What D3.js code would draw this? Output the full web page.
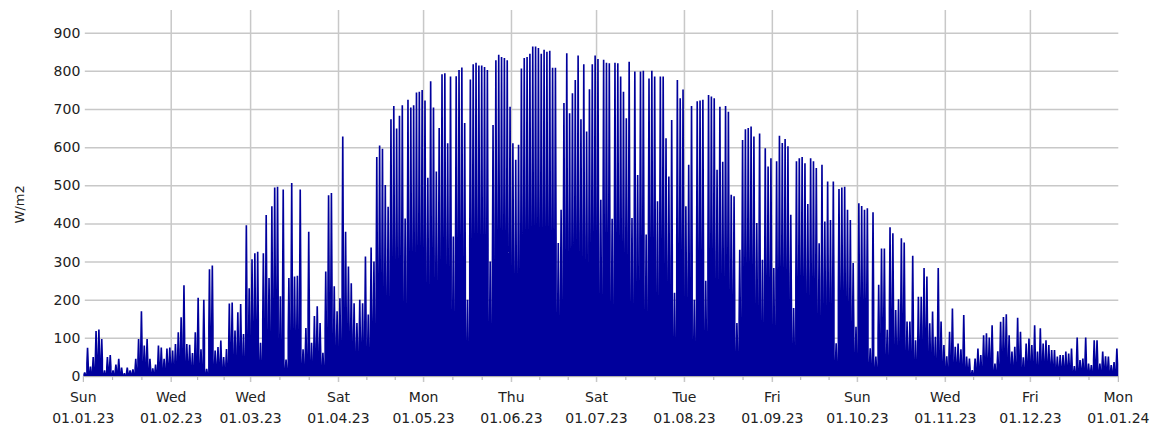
<!DOCTYPE html>
<html>
<head>
<meta charset="utf-8">
<script src="https://cdn.jsdelivr.net/npm/d3@7"></script>
<style>
  body { margin: 0; background: #fff; }
  svg text { font-family: "DejaVu Sans", Verdana, sans-serif; fill: #222; }
</style>
</head>
<body>
<div id="chart"></div>
<script>
// daily peak irradiance (W/m2)
const jan = [10, 74, 25, 50, 118, 122, 97, 15, 50, 55, 15, 30, 45, 22, 8, 22, 15, 18, 45, 97, 170, 80, 97, 45, 20, 30, 80, 75, 45, 72, 75];
const feb = [67, 84, 115, 154, 238, 84, 82, 60, 115, 205, 70, 200, 19, 280, 290, 67, 76, 93, 50, 71, 190, 193, 119, 167, 189, 110, 395, 230];
const mar = [306, 322, 326, 87, 322, 422, 257, 445, 494, 496, 209, 489, 43, 257, 506, 261, 263, 489, 70, 126, 378, 87, 157, 183, 139, 61, 274, 474, 480, 235, 170];
const apr = [204, 628, 378, 287, 243, 191, 139, 200, 191, 313, 161, 337, 300, 574, 604, 596, 501, 444, 673, 708, 649, 682, 710, 413, 724, 704, 710, 743, 745, 750];
const may = [722, 520, 773, 704, 536, 650, 791, 794, 610, 785, 366, 786, 802, 809, 663, 200, 777, 817, 821, 814, 814, 810, 802, 300, 658, 828, 842, 836, 834, 828, 706];
const jun = [610, 567, 606, 806, 834, 836, 845, 864, 864, 860, 845, 855, 850, 853, 808, 808, 349, 436, 716, 846, 689, 741, 776, 840, 673, 817, 641, 752, 817, 840];
const jul = [831, 462, 829, 821, 820, 412, 821, 820, 785, 745, 676, 824, 414, 798, 527, 798, 800, 371, 780, 800, 785, 458, 785, 785, 623, 523, 671, 218, 776, 728, 751];
const aug = [445, 554, 708, 200, 720, 722, 724, 250, 737, 733, 728, 541, 706, 562, 708, 693, 475, 471, 139, 331, 619, 647, 650, 654, 628, 401, 636, 305, 597, 549, 571];
const sep = [283, 563, 630, 611, 621, 602, 423, 178, 563, 571, 574, 558, 451, 571, 563, 545, 348, 554, 405, 510, 409, 510, 86, 490, 494, 496, 436, 409, 296, 129];
const oct = [453, 446, 436, 440, 73, 429, 51, 239, 334, 334, 121, 390, 374, 173, 201, 361, 350, 143, 143, 315, 94, 208, 208, 283, 261, 138, 169, 103, 283, 143, 81];
const nov = [52, 116, 177, 77, 85, 70, 160, 51, 46, 16, 46, 72, 55, 107, 112, 101, 133, 33, 65, 142, 155, 162, 107, 64, 77, 153, 116, 49, 85, 98];
const dec = [81, 133, 64, 125, 85, 94, 81, 68, 68, 51, 55, 55, 64, 59, 72, 26, 101, 42, 46, 101, 33, 29, 94, 94, 33, 64, 52, 51, 29, 37, 72];

const yTicks = [0, 100, 200, 300, 400, 500, 600, 700, 800, 900];
const monthTicks = ["2023-01-01", "2023-02-01", "2023-03-01", "2023-04-01", "2023-05-01", "2023-06-01",
  "2023-07-01", "2023-08-01", "2023-09-01", "2023-10-01", "2023-11-01", "2023-12-01", "2024-01-01"];
const yLabel = "W/m2";

const peaks = [].concat(jan, feb, mar, apr, may, jun, jul, aug, sep, oct, nov, dec);

const width = 1162, height = 430;
const plot = { left: 83.3, right: 1118.3, top: 32.7, bottom: 376, gridTop: 10 };

const parse = d3.timeParse("%Y-%m-%d");
const months = monthTicks.map(parse);
const start = months[0];
const end = months[months.length - 1];
const days = d3.timeDay.range(start, end);

const x = d3.scaleTime().domain([start, end]).range([plot.left, plot.right]);
const y = d3.scaleLinear().domain([0, 900]).range([plot.bottom, plot.top]);

const svg = d3.select("#chart").append("svg")
  .attr("width", width)
  .attr("height", height);

// horizontal grid + y labels
const yAxis = d3.axisLeft(y)
  .tickValues(yTicks)
  .tickSize(-(plot.right - plot.left))
  .tickPadding(3)
  .tickFormat(d3.format("d"));

svg.append("g")
  .attr("transform", `translate(${plot.left},0)`)
  .call(yAxis)
  .call(g => g.select(".domain").remove())
  .call(g => g.selectAll(".tick line").attr("stroke", "#c8c8c8").attr("stroke-width", 1.5).attr("x1", 1.5))
  .call(g => g.selectAll(".tick text").attr("font-size", 14).attr("fill", "#222"));

// vertical month grid
svg.append("g")
  .selectAll("line")
  .data(months.slice(1, -1))
  .join("line")
    .attr("x1", d => x(d)).attr("x2", d => x(d))
    .attr("y1", plot.gridTop).attr("y2", plot.bottom + 6)
    .attr("stroke", "#c8c8c8")
    .attr("stroke-width", 1.5);

// daily irradiance: one hump per day; full width low down, tapered near the peak
// so that the nights show up as thin white gaps in the upper part
const inset = 0.6;
const shoulder = 0.45;
const pts = [];
days.forEach((d, i) => {
  const x0 = x(d), x1 = x(d3.timeDay.offset(d, 1)), p = peaks[i];
  pts.push([x0, 0], [x0, p * shoulder], [x0 + inset, p], [x1 - inset, p], [x1, p * shoulder], [x1, 0]);
});
const area = d3.area()
  .x(p => p[0])
  .y0(y(0))
  .y1(p => y(p[1]));

svg.append("path")
  .datum(pts)
  .attr("d", area)
  .attr("fill", "#00009c");

// x axis: base line, month ticks and minor ticks splitting each month in thirds
svg.append("line")
  .attr("x1", plot.left).attr("x2", plot.right)
  .attr("y1", plot.bottom + 0.5).attr("y2", plot.bottom + 0.5)
  .attr("stroke", "#b0b0b0");

const minorTicks = [];
for (let i = 0; i < months.length - 1; i++) {
  const a = +months[i], b = +months[i + 1];
  minorTicks.push(new Date(a + (b - a) / 3), new Date(a + 2 * (b - a) / 3));
}
svg.append("g")
  .selectAll("line")
  .data(minorTicks)
  .join("line")
    .attr("x1", d => x(d)).attr("x2", d => x(d))
    .attr("y1", plot.bottom).attr("y2", plot.bottom + 4)
    .attr("stroke", "#b0b0b0");

svg.append("g")
  .selectAll("line")
  .data([start, end])
  .join("line")
    .attr("x1", d => x(d)).attr("x2", d => x(d))
    .attr("y1", plot.bottom).attr("y2", plot.bottom + 6)
    .attr("stroke", "#b0b0b0");

const fmtDay = d3.timeFormat("%a");
const fmtDate = d3.timeFormat("%d.%m.%y");
const xl = svg.append("g")
  .selectAll("text")
  .data(months)
  .join("text")
    .attr("text-anchor", "middle")
    .attr("font-size", 14)
    .attr("x", d => x(d));
xl.append("tspan").attr("x", d => x(d)).attr("y", 402).text(d => fmtDay(d));
xl.append("tspan").attr("x", d => x(d)).attr("y", 423).text(d => fmtDate(d));

svg.append("text")
  .attr("transform", `translate(24,${(plot.top + plot.bottom) / 2}) rotate(-90)`)
  .attr("text-anchor", "middle")
  .attr("font-size", 13)
  .text(yLabel);
</script>
</body>
</html>
